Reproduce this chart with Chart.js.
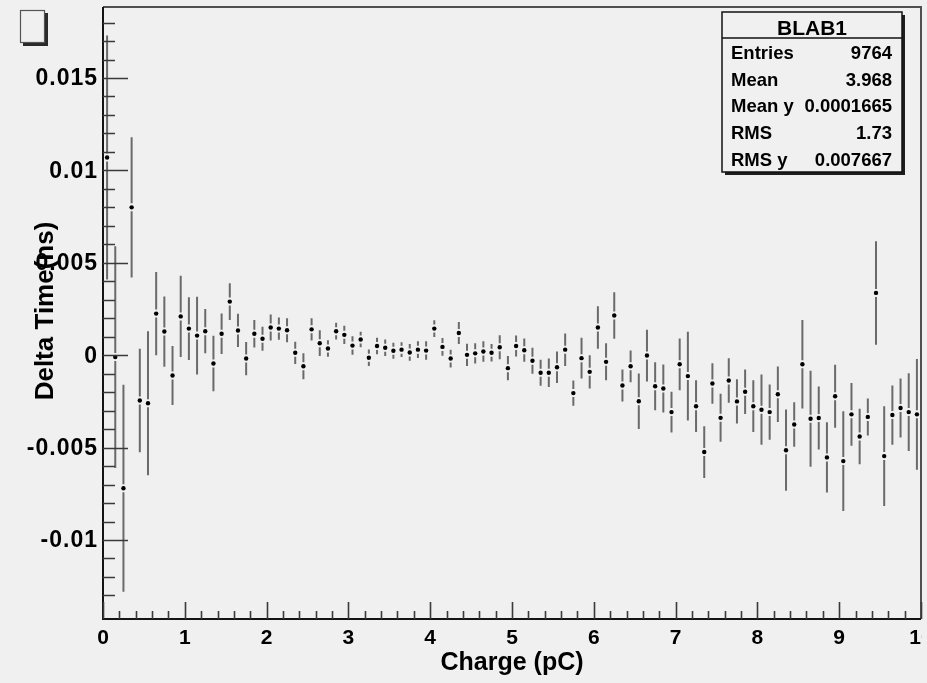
<!DOCTYPE html>
<html>
<head>
<meta charset="utf-8">
<script src="https://cdn.jsdelivr.net/npm/chart.js@4.4.1/dist/chart.umd.min.js"></script>
<style>
  html, body { margin: 0; padding: 0; background: #f0f0f0; }
  canvas { display: block; }
</style>
</head>
<body>
<canvas id="profile" width="927" height="683"></canvas>
<script>
// bin centres of the profile (pC)
const binCenters = [
    0.05, 0.15, 0.25, 0.35, 0.45, 0.55, 0.65, 0.75, 0.85, 0.95,
    1.05, 1.15, 1.25, 1.35, 1.45, 1.55, 1.65, 1.75, 1.85, 1.95,
    2.05, 2.15, 2.25, 2.35, 2.45, 2.55, 2.65, 2.75, 2.85, 2.95,
    3.05, 3.15, 3.25, 3.35, 3.45, 3.55, 3.65, 3.75, 3.85, 3.95,
    4.05, 4.15, 4.25, 4.35, 4.45, 4.55, 4.65, 4.75, 4.85, 4.95,
    5.05, 5.15, 5.25, 5.35, 5.45, 5.55, 5.65, 5.75, 5.85, 5.95,
    6.05, 6.15, 6.25, 6.35, 6.45, 6.55, 6.65, 6.75, 6.85, 6.95,
    7.05, 7.15, 7.25, 7.35, 7.45, 7.55, 7.65, 7.75, 7.85, 7.95,
    8.05, 8.15, 8.25, 8.35, 8.45, 8.55, 8.65, 8.75, 8.85, 8.95,
    9.05, 9.15, 9.25, 9.35, 9.45, 9.55, 9.65, 9.75, 9.85, 9.95
];

// mean delta time per bin (ns)
const meanValues = [
    0.0107, -0.0001, -0.0072, 0.0080, -0.00245, -0.0026, 0.00225, 0.00128, -0.0011, 0.0021,
    0.00144, 0.00106, 0.0013, -0.00045, 0.00116, 0.0029, 0.00134, -0.00018, 0.00116, 0.00089,
    0.0015, 0.00144, 0.00135, 0.00013, -0.0006, 0.0014, 0.00065, 0.00036, 0.0013, 0.0011,
    0.00052, 0.00085, -0.00014, 0.0005, 0.0004, 0.00024, 0.0003, 0.00015, 0.0003, 0.00025,
    0.00144, 0.00045, -0.00018, 0.0012, 0.00002, 0.0001, 0.0002, 0.00013, 0.00043, -0.0007,
    0.0005, 0.00027, -0.0003, -0.00095, -0.00095, -0.00065, 0.0003, -0.00205, -0.00016, -0.0009,
    0.0015, -0.00036, 0.00215, -0.00164, -0.0006, -0.00249, -0.00002, -0.00168, -0.0018, -0.00308,
    -0.00049, -0.00113, -0.00276, -0.00524, -0.00153, -0.00339, -0.00137, -0.0025, -0.00198, -0.00276,
    -0.00295, -0.00308, -0.00211, -0.00514, -0.00375, -0.00049, -0.00344, -0.0034, -0.00553, -0.00222,
    -0.00573, -0.0032, -0.0044, -0.00334, 0.00337, -0.00546, -0.00324, -0.00286, -0.00308, -0.0032
];

// error on the mean per bin (ns)
const meanErrors = [
    0.0066, 0.0060, 0.0056, 0.0038, 0.0028, 0.0039, 0.00225, 0.0019, 0.0016, 0.0022,
    0.0017, 0.0021, 0.0012, 0.0015, 0.0011, 0.0010, 0.0009, 0.0009, 0.00075, 0.00065,
    0.0007, 0.0006, 0.00065, 0.0006, 0.0007, 0.0006, 0.0007, 0.00045, 0.00045, 0.0005,
    0.0005, 0.00042, 0.00045, 0.00045, 0.00045, 0.00043, 0.0004, 0.00045, 0.00045, 0.0005,
    0.00045, 0.00048, 0.00048, 0.0006, 0.0006, 0.00055, 0.00055, 0.00047, 0.00065, 0.00065,
    0.00057, 0.00063, 0.0007, 0.0007, 0.00077, 0.00085, 0.00088, 0.00068, 0.0011, 0.0009,
    0.00115, 0.0010, 0.00126, 0.00086, 0.00086, 0.0015, 0.0014, 0.0013, 0.0013, 0.0011,
    0.0014, 0.0024, 0.0014, 0.0014, 0.0011, 0.0013, 0.0012, 0.0012, 0.0012, 0.0014,
    0.0019, 0.0015, 0.0015, 0.0022, 0.0012, 0.0024, 0.0026, 0.0017, 0.0019, 0.0017,
    0.0027, 0.0017, 0.0015, 0.0010, 0.0028, 0.0027, 0.0016, 0.0016, 0.0021, 0.0030
];

const statsTitle = "BLAB1";
const statsNames = ["Entries", "Mean", "Mean y", "RMS", "RMS y"];
const statsValues = ["9764", "3.968", "0.0001665", "1.73", "0.007667"];

const xTitle = "Charge (pC)";
const yTitle = "Delta Time(ns)";

const X_MIN = 0, X_MAX = 10;
const Y_MIN = -0.014275, Y_MAX = 0.018842;

const FONT = '"Liberation Sans", Arial, sans-serif';
const BG = '#f0f0f0';

function isMultiple(v, step) {
    const r = v / step;
    return Math.abs(r - Math.round(r)) < 1e-6;
}

function formatY(v) {
    return String(parseFloat(v.toFixed(4)));
}

// ROOT-like frame, inward ticks, labels and stat box
const rootStyle = {
    id: 'rootStyle',
    beforeDraw(chart) {
        const ctx = chart.ctx;
        ctx.save();
        ctx.fillStyle = BG;
        ctx.fillRect(0, 0, chart.width, chart.height);
        ctx.restore();
    },
    beforeDatasetsDraw(chart) {
        const {ctx, scales: {x, y}} = chart;
        ctx.save();
        ctx.strokeStyle = '#6a6a6a';
        ctx.lineWidth = 2;
        const gap = 4;
        binCenters.forEach((c, i) => {
            const px = x.getPixelForValue(c);
            const pm = y.getPixelForValue(meanValues[i]);
            const top = y.getPixelForValue(meanValues[i] + meanErrors[i]);
            const bot = y.getPixelForValue(meanValues[i] - meanErrors[i]);
            ctx.beginPath();
            if (pm - top > gap) { ctx.moveTo(px, top); ctx.lineTo(px, pm - gap); }
            if (bot - pm > gap) { ctx.moveTo(px, pm + gap); ctx.lineTo(px, bot); }
            ctx.stroke();
        });
        ctx.restore();
    },
    afterDatasetsDraw(chart) {
        const {ctx, chartArea: {left, right, top, bottom}, scales: {x, y}} = chart;
        ctx.save();

        // frame top / right
        ctx.strokeStyle = '#505050';
        ctx.lineWidth = 2;
        ctx.beginPath();
        ctx.moveTo(left, top);
        ctx.lineTo(right, top);
        ctx.lineTo(right, bottom);
        ctx.stroke();

        // axes
        ctx.strokeStyle = '#141414';
        ctx.beginPath();
        ctx.moveTo(left, top);
        ctx.lineTo(left, bottom);
        ctx.lineTo(right, bottom);
        ctx.stroke();

        // ticks
        ctx.strokeStyle = '#3a3a3a';
        ctx.lineWidth = 1.6;
        ctx.beginPath();
        y.ticks.forEach(t => {
            if (!isMultiple(t.value, 0.001)) return;
            const py = Math.round(y.getPixelForValue(t.value)) + 0.5;
            const len = isMultiple(t.value, 0.005) ? 25 : 12;
            ctx.moveTo(left, py);
            ctx.lineTo(left + len, py);
        });
        x.ticks.forEach(t => {
            if (!isMultiple(t.value, 0.2)) return;
            const px = Math.round(x.getPixelForValue(t.value)) + 0.5;
            const len = isMultiple(t.value, 1) ? 17 : 8;
            ctx.moveTo(px, bottom);
            ctx.lineTo(px, bottom - len);
        });
        ctx.stroke();

        // tick labels
        ctx.fillStyle = '#000';
        ctx.font = 'bold 23px ' + FONT;
        ctx.letterSpacing = '1px';
        ctx.textAlign = 'right';
        ctx.textBaseline = 'middle';
        y.ticks.forEach(t => {
            if (!isMultiple(t.value, 0.005)) return;
            ctx.fillText(formatY(t.value), left - 5, y.getPixelForValue(t.value) + 1);
        });
        ctx.letterSpacing = '0px';

        // the original pad is cut just past the frame, so the "0" of "10" is lost
        ctx.save();
        ctx.beginPath();
        ctx.rect(0, bottom + 2, right + 1, 40);
        ctx.clip();
        ctx.font = 'bold 21px ' + FONT;
        ctx.textAlign = 'center';
        ctx.textBaseline = 'top';
        x.ticks.forEach(t => {
            if (!isMultiple(t.value, 1)) return;
            ctx.fillText(String(Math.round(t.value)), x.getPixelForValue(t.value), bottom + 9);
        });
        ctx.restore();

        // axis titles
        ctx.font = 'bold 25px ' + FONT;
        ctx.textAlign = 'center';
        ctx.textBaseline = 'alphabetic';
        ctx.fillText(xTitle, (left + right) / 2, 670);
        ctx.save();
        ctx.translate(53, (top + bottom) / 2 - 2);
        ctx.rotate(-Math.PI / 2);
        ctx.font = 'bold 26px ' + FONT;
        ctx.fillText(yTitle, 0, 0);
        ctx.restore();

        // empty title pave, top left
        ctx.fillStyle = '#2a2a2a';
        ctx.fillRect(23, 13, 25, 33);
        ctx.fillStyle = BG;
        ctx.fillRect(20, 10, 25, 33);
        ctx.strokeStyle = '#555';
        ctx.lineWidth = 1.2;
        ctx.strokeRect(20.5, 10.5, 24, 32);

        // stats box
        const bx = 722, by = 12, bw = 180, bh = 160;
        ctx.fillStyle = '#1e1e1e';
        ctx.fillRect(bx + 3, by + 3, bw, bh);
        ctx.fillStyle = BG;
        ctx.fillRect(bx, by, bw, bh);
        ctx.strokeStyle = '#111';
        ctx.lineWidth = 1.5;
        ctx.strokeRect(bx, by, bw, bh);
        ctx.beginPath();
        ctx.moveTo(bx, 38);
        ctx.lineTo(bx + bw, 38);
        ctx.stroke();

        ctx.fillStyle = '#000';
        ctx.font = 'bold 21px ' + FONT;
        ctx.textAlign = 'center';
        ctx.fillText(statsTitle, bx + bw / 2, 35);
        ctx.font = 'bold 18.5px ' + FONT;
        statsNames.forEach((name, i) => {
            const base = 59 + i * 26.7;
            ctx.textAlign = 'left';
            ctx.fillText(name, 731, base);
            ctx.textAlign = 'right';
            ctx.fillText(statsValues[i], 892, base);
        });

        ctx.restore();
    }
};

const hiddenAxis = {
    display: true,
    grid: { display: false, drawTicks: false },
    border: { display: false },
    title: { display: false }
};

const profileChart = new Chart(document.getElementById('profile'), {
    type: 'scatter',
    data: {
        datasets: [{
            label: 'BLAB1',
            data: binCenters.map((c, i) => ({ x: c, y: meanValues[i] })),
            pointRadius: 2.2,
            pointHoverRadius: 2.2,
            pointBackgroundColor: '#000',
            pointBorderWidth: 0,
            showLine: false
        }]
    },
    options: {
        responsive: false,
        animation: false,
        devicePixelRatio: 1,
        events: [],
        layout: {
            padding: { left: 103, right: 6, top: 7, bottom: 64 }
        },
        plugins: {
            legend: { display: false },
            tooltip: { enabled: false }
        },
        scales: {
            x: {
                ...hiddenAxis,
                type: 'linear',
                min: X_MIN,
                max: X_MAX,
                ticks: { display: false, stepSize: 0.2 }
            },
            y: {
                ...hiddenAxis,
                type: 'linear',
                min: Y_MIN,
                max: Y_MAX,
                ticks: { display: false, stepSize: 0.001 }
            }
        }
    },
    plugins: [rootStyle]
});
</script>
</body>
</html>
